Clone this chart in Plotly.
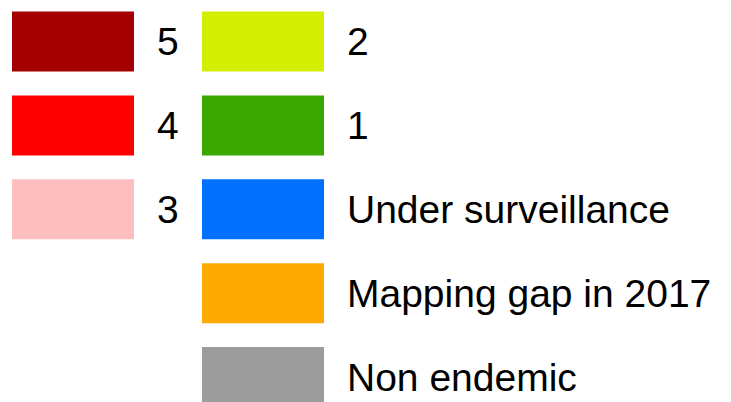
import plotly.graph_objects as go

# Legend entries
labels = ["5", "4", "3", "2", "1", "Under surveillance", "Mapping gap in 2017", "Non endemic"]
colors = ["#A50000", "#FF0000", "#FFBEBE", "#D3EE00", "#38A800", "#0070FF", "#FFAA00", "#9C9C9C"]
columns = [0, 0, 0, 1, 1, 1, 1, 1]
rows = [0, 1, 2, 0, 1, 2, 3, 4]

# layout (page pixel units; the page has an 8px body margin)
W, H = 731, 402
PAD = 8
col_left = [12, 202]
sw_w, sw_h = 122, 60
row_top0, row_pitch = 11.5, 83.9
text_gap = 23
text_dy = 4
font_size = 39

base = [col_left[c] for c in columns]
yc = [row_top0 + sw_h / 2 + r * row_pitch for r in rows]

fig = go.Figure()
fig.add_trace(go.Bar(
    x=[sw_w] * len(labels), base=base, y=yc, orientation="h",
    width=sw_h, marker=dict(color=colors, line=dict(width=0)),
    hoverinfo="skip", showlegend=False,
))
fig.add_trace(go.Scatter(
    x=[b + sw_w + text_gap for b in base], y=[v + text_dy for v in yc],
    mode="text", text=labels, textposition="middle right",
    textfont=dict(family="Liberation Sans, Arial, sans-serif", size=font_size, color="#000000"),
    hoverinfo="skip", showlegend=False, cliponaxis=False,
))
fig.update_layout(
    width=W, height=H, margin=dict(l=0, r=0, t=0, b=0),
    paper_bgcolor="white", plot_bgcolor="white",
    xaxis=dict(range=[PAD, W + PAD], visible=False, fixedrange=True),
    yaxis=dict(range=[H + PAD, PAD], visible=False, fixedrange=True),
)
fig.write_html("out.html", config={"displayModeBar": False})
